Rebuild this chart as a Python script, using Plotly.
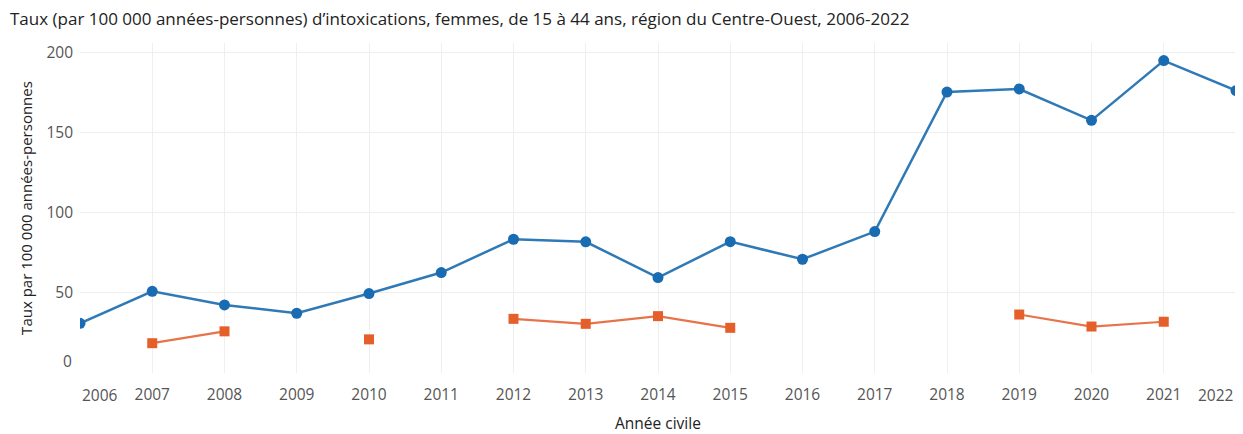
import plotly.graph_objects as go

years = list(range(2006, 2023))
blue_vals = [31, 51, 42.5, 37.3, 49.6, 62.7, 83.5, 81.9, 59.6, 82, 71, 88.3, 175.4, 177.3, 157.7, 195, 176.3]
orange_vals = [None, 18.6, 26, None, 21, None, 33.8, 30.7, 35.5, 28.2, None, None, None, 36.5, 29, 32, None]

y_ticks = [50, 100, 150, 200]
x_ticks_mid = list(range(2007, 2022))

title_text = "Taux (par 100 000 années-personnes) d’intoxications, femmes, de 15 à 44 ans, région du Centre-Ouest, 2006-2022"
y_title = "Taux par 100 000 années-personnes"
x_title = "Année civile"

FONT = "Open Sans"
BLUE = "#1a6cb2"
BLUE_LINE = "#2f79b6"
ORANGE = "#e55f2b"
TICKFONT = dict(family=FONT, size=15.5, color="#555")

fig = go.Figure()
fig.add_trace(go.Scatter(
    x=years, y=blue_vals, mode="lines+markers",
    line=dict(color=BLUE_LINE, width=2.5),
    marker=dict(color=BLUE, size=11, symbol="circle"),
    cliponaxis=True, showlegend=False, hoverinfo="x+y",
))
fig.add_trace(go.Scatter(
    x=years, y=orange_vals, mode="lines+markers",
    line=dict(color="#e8734a", width=2.2),
    marker=dict(color=ORANGE, size=10, symbol="square"),
    connectgaps=False, showlegend=False, hoverinfo="x+y",
))

annotations = [
    dict(x=years[0], y=0, xref="x", yref="paper", yanchor="top", xanchor="left",
         text=str(years[0]), showarrow=False, yshift=-9, xshift=0,
         font=TICKFONT),
    dict(x=years[-1], y=0, xref="x", yref="paper", yanchor="top", xanchor="right",
         text=str(years[-1]), showarrow=False, yshift=-9, xshift=0,
         font=TICKFONT),
    dict(x=0, y=0, xref="paper", yref="y", yanchor="bottom", xanchor="right",
         text="0", showarrow=False, xshift=-6, yshift=-1,
         font=TICKFONT),
    dict(x=0.5, y=0, xref="paper", yref="paper", yanchor="bottom", xanchor="center",
         text=x_title, showarrow=False, yshift=-62, borderpad=0,
         font=dict(family=FONT, size=15.5, color="#222")),
]

# The page body adds an 8px offset; size and margins compensate for it.
fig.update_layout(
    width=1235, height=426,
    margin=dict(l=72, r=7, t=35, b=61),
    paper_bgcolor="white", plot_bgcolor="white",
    title=dict(text=title_text, x=2/1235, xanchor="left", xref="container",
               y=1 - 11/426, yanchor="middle", yref="container",
               font=dict(family=FONT, size=17, color="#222")),
    xaxis=dict(range=[2006, 2022], tickvals=x_ticks_mid, ticktext=[str(v) for v in x_ticks_mid],
               showgrid=True, gridcolor="#efefef", gridwidth=1, zeroline=False,
               showline=False, ticks="", ticklabelstandoff=10, automargin=False,
               tickfont=TICKFONT),
    yaxis=dict(range=[0, 206], tickvals=y_ticks, ticktext=[str(v) for v in y_ticks],
               showgrid=True, gridcolor="#efefef", gridwidth=1, zeroline=False,
               showline=False, ticks="", ticklabelstandoff=6, automargin=False,
               tickfont=TICKFONT,
               title=dict(text=y_title, standoff=10, font=dict(family=FONT, size=15, color="#222"))),
    annotations=annotations,
)

fig.write_html("out.html")
